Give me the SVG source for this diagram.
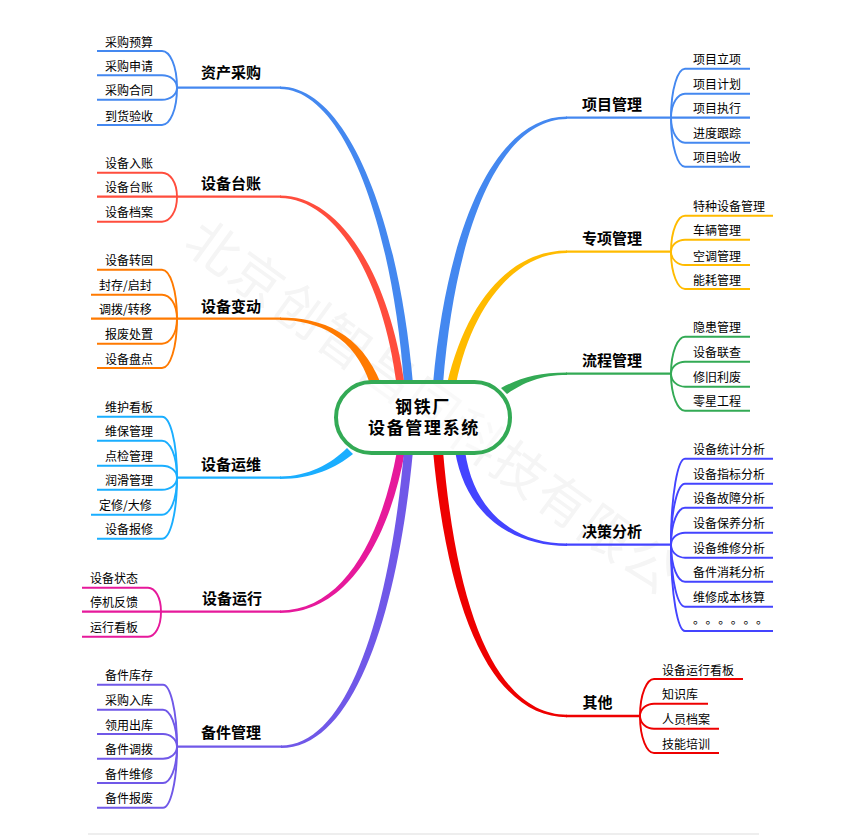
<svg xmlns="http://www.w3.org/2000/svg" width="846" height="835" viewBox="0 0 846 835">
<style>
text{font-family:"Noto Sans CJK SC","Liberation Sans",sans-serif;fill:#000}
.leaf{font-size:12px;transform:translateY(.7px)}
.branch{font-size:15px;font-weight:700}
.center{font-size:17px;font-weight:700;letter-spacing:1.67px;text-anchor:middle;font-family:"Liberation Serif","Noto Sans CJK SC",serif}
.wm{font-size:52px;letter-spacing:2px;fill:#f5f5f5}
.s{fill:none;stroke-width:1.9}
.m{fill:none;stroke-width:2.3}
.c1{stroke:#4488f0}.f1{fill:#4488f0}
.c2{stroke:#ff4d3d}.f2{fill:#ff4d3d}
.c3{stroke:#ff7a00}.f3{fill:#ff7a00}
.c4{stroke:#1aaeff}.f4{fill:#1aaeff}
.c5{stroke:#e6199b}.f5{fill:#e6199b}
.c6{stroke:#7058e8}.f6{fill:#7058e8}
.c7{stroke:#ffbb00}.f7{fill:#ffbb00}
.c8{stroke:#33aa55}.f8{fill:#33aa55}
.c9{stroke:#4444ff}.f9{fill:#4444ff}
.c0{stroke:#ee0000}.f0{fill:#ee0000}
</style>
<text class="wm" transform="translate(213,248) rotate(36)" x="-26" y="18">北京创智昌同科技有限公</text>
<g id="connectors">
<path class="f1" d="M280 86.500C347 86.500 399 218 413 384L404 384C392 222 343 89 280 89Z"/>
<path class="f2" d="M280 195.500C337 195.500 388 268 404.500 384L396.500 384C382 272 333 198 280 198Z"/>
<path class="f3" d="M280 317.500C322 317.500 361 333 381 384L370 384C355 337 318 320 280 320Z"/>
<path class="f4" d="M280 479C312 479 336 468 353 454L347 448C331 464 308 476.500 280 476.500Z"/>
<path class="f5" d="M280 613C347 613 389 541 405 451L397 451C381 539 343 610.500 280 610.500Z"/>
<path class="f6" d="M281 748C358 748 399 601 413 451L404 451C391 599 352 745.500 281 745.500Z"/>
<path class="f1" d="M567 116.500C498 116.500 448 218 433 384L443 384C456 222 502 119 567 119Z"/>
<path class="f7" d="M567 250.500C512 250.500 467 299 447 384L456 384C473 301 518 253 567 253Z"/>
<path class="f8" d="M567 372.500C538 372.500 520 378 501 388L507 394C523 383 540 375 567 375Z"/>
<path class="f9" d="M567 543.500C517 543.500 474 514 465 451L455 451C466 516 513 546 567 546Z"/>
<path class="f0" d="M567 714.800C507 714.800 459 639 443 451L433 451C451 641 503 717.200 567 717.200Z"/>

<path class="m c1" d="M281 87.700H177"/>
<g class="s c1">
<path d="M177 87.700C177 65.700 170 51 162 51H97"/>
<path d="M177 87.700C177 80.300 170 75.300 162 75.300H97"/>
<path d="M177 87.700C177 94.900 170 99.700 162 99.700H97"/>
<path d="M177 87.700C177 110 170 125 162 125H97"/>
</g>
<path class="m c2" d="M281 196.700H97"/>
<g class="s c2">
<path d="M177 196.700C177 182.300 170 172.700 162 172.700H97"/>
<path d="M177 196.700C177 211.700 170 221.700 162 221.700H97"/>
</g>
<path class="m c3" d="M281 318.700H91"/>
<g class="s c3">
<path d="M177 318.700C177 289.300 170 269.700 162 269.700H97"/>
<path d="M177 318.700C177 304.300 170 294.700 162 294.700H91"/>
<path d="M177 318.700C177 333.700 170 343.700 162 343.700H97"/>
<path d="M177 318.700C177 348.300 170 368 162 368H97"/>
</g>
<path class="m c4" d="M281 477.700H177"/>
<g class="s c4">
<path d="M177 477.700C177 441.100 170 416.700 162 416.700H97"/>
<path d="M177 477.700C177 455.500 170 440.700 162 440.700H97"/>
<path d="M177 477.700C177 470.500 170 465.700 162 465.700H97"/>
<path d="M177 477.700C177 484.900 170 489.700 162 489.700H97"/>
<path d="M177 477.700C177 499.900 170 514.700 162 514.700H91"/>
<path d="M177 477.700C177 514.300 170 538.700 162 538.700H97"/>
</g>
<path class="m c5" d="M281 611.700H82"/>
<g class="s c5">
<path d="M161 611.700C161 597.300 155 587.700 148 587.700H82"/>
<path d="M161 611.700C161 626.700 155 636.700 148 636.700H82"/>
</g>
<path class="m c6" d="M282 746.700H177"/>
<g class="s c6">
<path d="M177 746.700C177 709.500 170 684.700 163 684.700H97"/>
<path d="M177 746.700C177 724.500 170 709.700 163 709.700H97"/>
<path d="M177 746.700C177 739 170 734 163 734H97"/>
<path d="M177 746.700C177 753.900 170 758.700 163 758.700H97"/>
<path d="M177 746.700C177 768.500 170 783 163 783H97"/>
<path d="M177 746.700C177 783.300 170 807.700 163 807.700H97"/>
</g>
<path class="m c1" d="M566 117.700H750"/>
<g class="s c1">
<path d="M671 117.700C671 88.300 678 68.700 685 68.700H750"/>
<path d="M671 117.700C671 103.300 678 93.700 685 93.700H750"/>
<path d="M671 117.700C671 132.700 678 142.700 685 142.700H750"/>
<path d="M671 117.700C671 147.100 678 166.700 685 166.700H750"/>
</g>
<path class="m c7" d="M566 251.700H671"/>
<g class="s c7">
<path d="M671 251.700C671 230.100 678 215.700 685 215.700H773"/>
<path d="M671 251.700C671 244.500 678 239.700 685 239.700H750"/>
<path d="M671 251.700C671 259.700 678 265 685 265H750"/>
<path d="M671 251.700C671 274.100 678 289 685 289H750"/>
</g>
<path class="m c8" d="M566 373.700H671"/>
<g class="s c8">
<path d="M671 373.700C671 351.500 678 336.700 685 336.700H750"/>
<path d="M671 373.700C671 366.500 678 361.700 685 361.700H750"/>
<path d="M671 373.700C671 381.500 678 386.700 685 386.700H750"/>
<path d="M671 373.700C671 395.900 678 410.700 685 410.700H750"/>
</g>
<path class="m c9" d="M566 544.700H671"/>
<g class="s c9">
<path d="M671 544.700C671 493.100 678 458.700 685 458.700H773"/>
<path d="M671 544.700C671 508.100 678 483.700 685 483.700H773"/>
<path d="M671 544.700C671 522.500 678 507.700 685 507.700H773"/>
<path d="M671 544.700C671 537.500 678 532.700 685 532.700H773"/>
<path d="M671 544.700C671 552.500 678 557.700 685 557.700H773"/>
<path d="M671 544.700C671 566.900 678 581.700 685 581.700H773"/>
<path d="M671 544.700C671 581.900 678 606.700 685 606.700H773"/>
<path d="M671 544.700C671 596.500 678 631 685 631H773"/>
</g>
<path class="m c0" d="M566 716H640"/>
<g class="s c0">
<path d="M640 716C640 693.800 647 679 654 679H743"/>
<path d="M640 716C640 708.600 647 703.700 654 703.700H708"/>
<path d="M640 716C640 723.600 647 728.700 654 728.700H719"/>
<path d="M640 716C640 738.200 647 753 654 753H719"/>
</g>
</g>
<g id="center">
<rect x="336" y="382" width="174" height="71" rx="35.500" fill="#fff" fill-opacity=".45" stroke="#33aa55" stroke-width="4"/>
<text class="center"><tspan x="423" y="413">钢铁厂</tspan><tspan x="424" y="434">设备管理系统</tspan></text>
</g>
<g id="zcgc"><text class="branch" x="201" y="78">资产采购</text>
<text class="leaf" x="105" y="46">采购预算</text><text class="leaf" x="105" y="70.300">采购申请</text><text class="leaf" x="105" y="94.700">采购合同</text><text class="leaf" x="105" y="120">到货验收</text></g>
<g id="sbtz"><text class="branch" x="201" y="189">设备台账</text>
<text class="leaf" x="105" y="167.700">设备入账</text><text class="leaf" x="105" y="191.700">设备台账</text><text class="leaf" x="105" y="216.700">设备档案</text></g>
<g id="sbbd"><text class="branch" x="201" y="312">设备变动</text>
<text class="leaf" x="105" y="264.700">设备转固</text><text class="leaf" x="99" y="289.700">封存/启封</text><text class="leaf" x="99" y="313.700">调拨/转移</text><text class="leaf" x="105" y="338.700">报废处置</text><text class="leaf" x="105" y="363">设备盘点</text></g>
<g id="sbyw"><text class="branch" x="201" y="470">设备运维</text>
<text class="leaf" x="105" y="411.700">维护看板</text><text class="leaf" x="105" y="435.700">维保管理</text><text class="leaf" x="105" y="460.700">点检管理</text><text class="leaf" x="105" y="484.700">润滑管理</text><text class="leaf" x="99" y="509.700">定修/大修</text><text class="leaf" x="105" y="533.700">设备报修</text></g>
<g id="sbyx"><text class="branch" x="202" y="603.500">设备运行</text>
<text class="leaf" x="90" y="582.700">设备状态</text><text class="leaf" x="90" y="606.700">停机反馈</text><text class="leaf" x="90" y="631.700">运行看板</text></g>
<g id="bjgl"><text class="branch" x="201" y="737.500">备件管理</text>
<text class="leaf" x="105" y="679.700">备件库存</text><text class="leaf" x="105" y="704.700">采购入库</text><text class="leaf" x="105" y="729">领用出库</text><text class="leaf" x="105" y="753.700">备件调拨</text><text class="leaf" x="105" y="778">备件维修</text><text class="leaf" x="105" y="802.700">备件报废</text></g>
<g id="xmgl"><text class="branch" x="582" y="109.500">项目管理</text>
<text class="leaf" x="693" y="63.700">项目立项</text><text class="leaf" x="693" y="88.700">项目计划</text><text class="leaf" x="693" y="112.700">项目执行</text><text class="leaf" x="693" y="137.700">进度跟踪</text><text class="leaf" x="693" y="161.700">项目验收</text></g>
<g id="zxgl"><text class="branch" x="582" y="243.500">专项管理</text>
<text class="leaf" x="693" y="210.700">特种设备管理</text><text class="leaf" x="693" y="234.700">车辆管理</text><text class="leaf" x="693" y="260">空调管理</text><text class="leaf" x="693" y="284">能耗管理</text></g>
<g id="lcgl"><text class="branch" x="582" y="365.500">流程管理</text>
<text class="leaf" x="693" y="331.700">隐患管理</text><text class="leaf" x="693" y="356.700">设备联查</text><text class="leaf" x="693" y="381.700">修旧利废</text><text class="leaf" x="693" y="405.700">零星工程</text></g>
<g id="jcfx"><text class="branch" x="582" y="536.500">决策分析</text>
<text class="leaf" x="693" y="453.700">设备统计分析</text><text class="leaf" x="693" y="478.700">设备指标分析</text><text class="leaf" x="693" y="502.700">设备故障分析</text><text class="leaf" x="693" y="527.700">设备保养分析</text><text class="leaf" x="693" y="552.700">设备维修分析</text><text class="leaf" x="693" y="576.700">备件消耗分析</text><text class="leaf" x="693" y="601.700">维修成本核算</text><text class="leaf" x="693 705.600 718.200 730.800 743.400 756" y="623.500">。。。。。。</text></g>
<g id="qt"><text class="branch" x="582.500" y="707.500">其他</text>
<text class="leaf" x="662" y="674">设备运行看板</text><text class="leaf" x="662" y="698.700">知识库</text><text class="leaf" x="662" y="723.700">人员档案</text><text class="leaf" x="662" y="748">技能培训</text></g>
<path d="M88 834H759" stroke="#dddddd" stroke-width="1" fill="none"/>
</svg>
